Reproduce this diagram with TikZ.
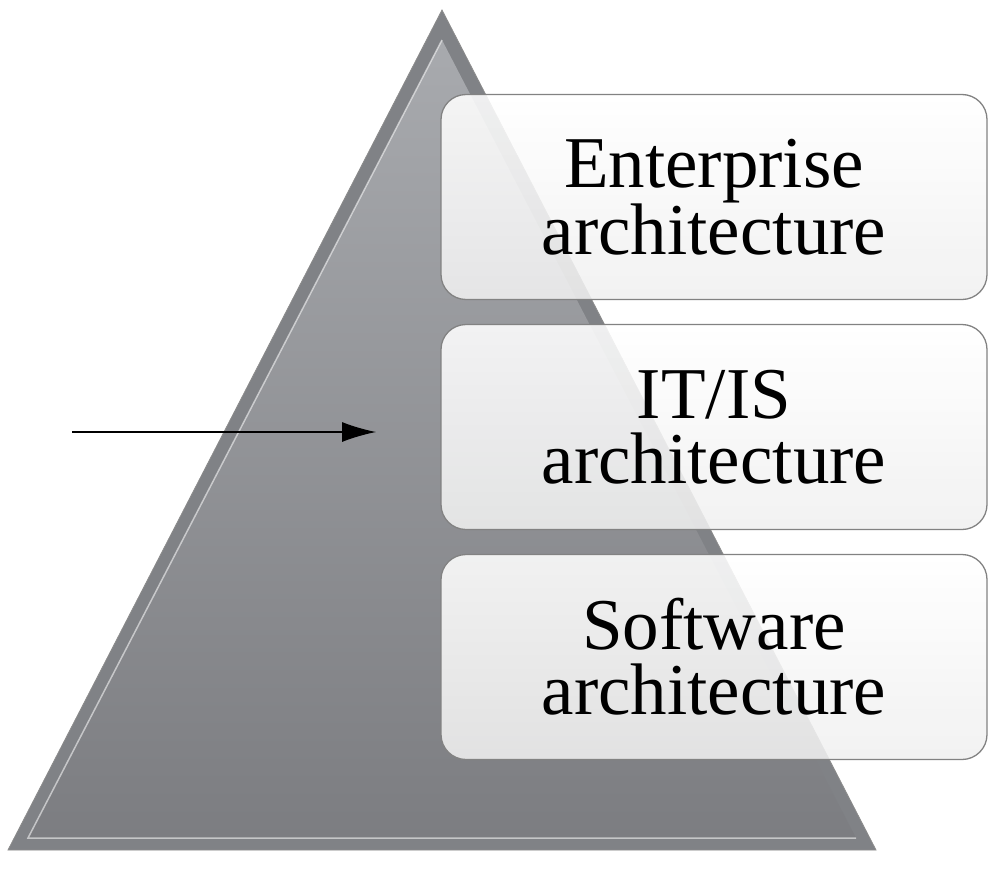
\documentclass[tikz,border=0pt]{standalone}
\usepackage{fontspec}
\setmainfont{Liberation Serif}
\usetikzlibrary{arrows.meta}
\definecolor{pyrtop}{RGB}{168,170,174}
\definecolor{pyrbot}{RGB}{124,125,129}
\definecolor{pyredge}{RGB}{128,130,134}
\definecolor{layerline}{RGB}{130,130,130}
\tikzset{
  layer/.style={draw=layerline, line width=1.3pt, rounded corners=25pt,
    top color=white, bottom color=black!6, fill opacity=0.88, text opacity=1,
    minimum width=546pt, minimum height=205pt, inner sep=0pt, align=center,
    font=\fontsize{73}{65}\selectfont}
}
\begin{document}
\begin{tikzpicture}[x=1pt,y=-1pt]
      \useasboundingbox (0,0) rectangle (988,870);
      % pyramid
      \coordinate (apex) at (442,10);
      \coordinate (left) at (8,850);
      \coordinate (right) at (876,850);
      \coordinate (iapex) at (442,40);
      \coordinate (ileft) at (28,838);
      \coordinate (iright) at (856,838);
      \fill[pyredge] (apex) -- (left) -- (right) -- cycle;
      \shade[top color=pyrtop, bottom color=pyrbot] (iapex) -- (ileft) -- (iright) -- cycle;
      \draw[white, line width=1.5pt, opacity=0.55] (iapex) -- (ileft) -- (iright);
      \draw[black!45, line width=0.8pt] (apex) -- (left) -- (right) -- cycle;
      % layers
      \node[layer] (ea) at (714,197) {Enterprise\\architecture};
      \node[layer] (itis) at (714,427) {IT/IS\\architecture};
      \node[layer] (sw) at (714,657) {Software\\architecture};
      % arrow
      \coordinate (from) at (72,432);
      \coordinate (to) at (376,432);
      \draw[line width=1.2pt, -{Latex[length=34pt,width=20pt]}] (from) -- (to);
    \end{tikzpicture}
\end{document}
